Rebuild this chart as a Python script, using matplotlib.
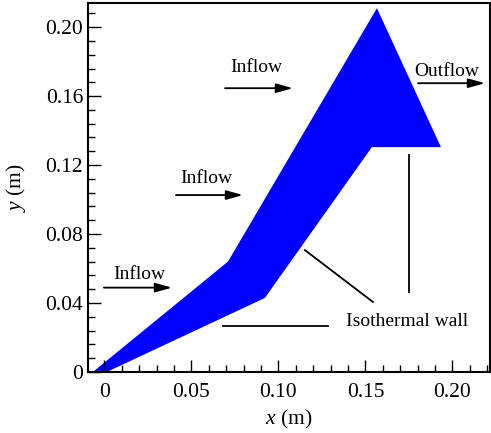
import matplotlib
matplotlib.use("Agg")
import matplotlib.pyplot as plt
from matplotlib.ticker import MultipleLocator, FixedLocator
from matplotlib.patches import Polygon

plt.rcParams['font.family'] = ['Liberation Serif', 'DejaVu Serif']
plt.rcParams['mathtext.fontset'] = 'custom'
plt.rcParams['mathtext.rm'] = 'Liberation Serif'
plt.rcParams['mathtext.it'] = 'Liberation Serif:italic'

# Domain outline (m)
domain_x = [-0.0066, 0.071, 0.1566, 0.1934, 0.1537, 0.0922, 0.0014]
domain_y = [0.0, 0.064, 0.211, 0.1304, 0.1304, 0.0429, 0.0]

x_ticks = [0, 0.05, 0.10, 0.15, 0.20]
x_tick_labels = ["0", "0.05", "0.10", "0.15", "0.20"]
y_ticks = [0, 0.04, 0.08, 0.12, 0.16, 0.20]
y_tick_labels = ["0", "0.04", "0.08", "0.12", "0.16", "0.20"]

fig = plt.figure(figsize=(4.91, 4.33), dpi=100)
ax = fig.add_axes([0.179, 0.141, 0.819, 0.852])

ax.add_patch(Polygon(list(zip(domain_x, domain_y)), closed=True,
                     facecolor='#0000ff', edgecolor='none'))

ax.set_xlim(-0.0095, 0.2216)
ax.set_ylim(0, 0.214)

ax.xaxis.set_major_locator(FixedLocator(x_ticks))
ax.set_xticklabels(x_tick_labels)
ax.yaxis.set_major_locator(FixedLocator(y_ticks))
ax.set_yticklabels(y_tick_labels)
ax.xaxis.set_minor_locator(MultipleLocator(0.01))
ax.yaxis.set_minor_locator(MultipleLocator(0.008))
ax.tick_params(which='both', direction='in', top=False, right=False, labelsize=15.5, width=1)
ax.tick_params(which='major', length=9)
ax.tick_params(which='minor', length=5)
ax.tick_params(axis='x', pad=8)
for s in ax.spines.values():
    s.set_linewidth(1.5)

ax.set_xlabel(r'$x$ (m)', fontsize=15.5, labelpad=4)
ax.set_ylabel(r'$y$ (m)', fontsize=15.5, labelpad=12)

arrow_kw = dict(arrowstyle='-|>,head_length=1.0,head_width=0.28', color='black', lw=1.3,
                shrinkA=0, shrinkB=0)

# Inflow / outflow arrows
ax.annotate('', xy=(0.0388, 0.0489), xytext=(-0.0003, 0.0489), arrowprops=arrow_kw)
ax.text(0.0198, 0.0568, 'Inflow', fontsize=14, ha='center', va='center')
ax.annotate('', xy=(0.0796, 0.1026), xytext=(0.0411, 0.1026), arrowprops=arrow_kw)
ax.text(0.0583, 0.1125, 'Inflow', fontsize=14, ha='center', va='center')
ax.annotate('', xy=(0.1083, 0.1646), xytext=(0.0693, 0.1646), arrowprops=arrow_kw)
ax.text(0.0871, 0.1768, 'Inflow', fontsize=14, ha='center', va='center')
ax.annotate('', xy=(0.2187, 0.1675), xytext=(0.1802, 0.1675), arrowprops=arrow_kw)
ax.text(0.1968, 0.1745, 'Outflow', fontsize=14, ha='center', va='center')

# Isothermal wall pointers
ax.plot([0.0681, 0.1284], [0.0267, 0.0267], color='black', lw=1.3)
ax.plot([0.1152, 0.1543], [0.0707, 0.0406], color='black', lw=1.3)
ax.plot([0.175, 0.175], [0.1258, 0.0464], color='black', lw=1.3)
ax.text(0.1739, 0.029, 'Isothermal wall', fontsize=14, ha='center', va='center')

fig.savefig('out.png', dpi=100)
